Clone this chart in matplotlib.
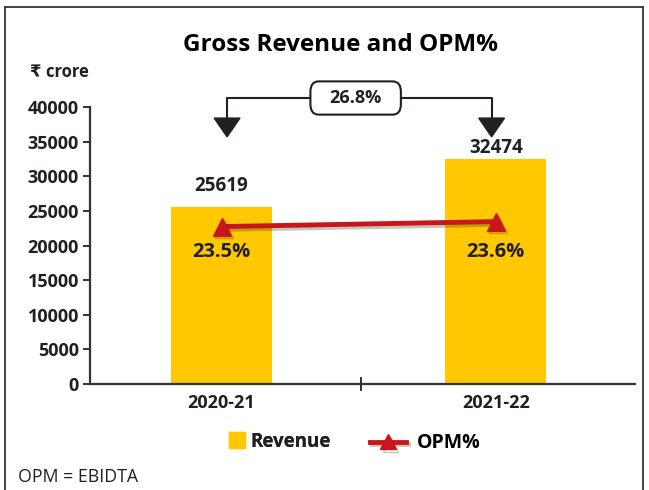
import matplotlib.pyplot as plt
import matplotlib.patheffects as pe
from matplotlib.lines import Line2D
from matplotlib.patches import Polygon, FancyBboxPatch

years = ["2020-21", "2021-22"]
revenue = [25619, 32474]          # Rs crore
opm = [23.5, 23.6]                # OPM %

YELLOW = "#FFC800"
RED = "#C8161D"
DARK = "#231F20"

plt.rcParams["font.family"] = ["Open Sans", "DejaVu Sans"]
plt.rcParams["font.weight"] = "bold"

fig = plt.figure(figsize=(6.49, 4.9), dpi=100)
ax = fig.add_axes([0.1387, 0.2163, 0.8393, 0.5653])

x = list(range(len(years)))
ax.bar(x, revenue, width=0.37, color=YELLOW, zorder=2)
ax.set_xlim(-0.48, 1.507)
ax.set_ylim(0, 40000)
ax.set_yticks(range(0, 40001, 5000))
ax.set_xticks(x)
ax.set_xticklabels(years)
ax.set_xticks([0.51], minor=True)

for s in ["top", "right"]:
    ax.spines[s].set_visible(False)
for s in ["left", "bottom"]:
    ax.spines[s].set_color("#333333")
    ax.spines[s].set_linewidth(1.6)
ax.tick_params(axis="y", direction="out", length=5, width=1.4, color="#333333",
               labelsize=13, labelcolor=DARK, pad=3)
ax.tick_params(axis="x", which="major", length=0, labelsize=13, labelcolor=DARK, pad=7)
ax.tick_params(axis="x", which="minor", direction="inout", length=10, width=1.4, color="#333333")
for lab in ax.get_xticklabels() + ax.get_yticklabels():
    lab.set_fontweight("bold")

# value labels above bars (offsets follow the original layout)
label_dy = [2970, 1610]
for xi, v, dy in zip(x, revenue, label_dy):
    ax.text(xi, v + dy, f"{v}", ha="center", va="center", fontsize=13.5,
            fontweight="bold", color=DARK)

# OPM line on a secondary scale
ax2 = ax.twinx()
ax2.set_ylim(20.34, 25.9)
ax2.axis("off")
shadow = [pe.SimpleLineShadow(offset=(1.5, -2), alpha=0.28, shadow_color="#333300"),
          pe.Normal()]
ax2.plot(x, opm, color=RED, lw=3.5, marker="^", markersize=13, zorder=3,
         path_effects=shadow)
for xi, v in zip(x, opm):
    ax.text(xi, 19000, f"{v}%", ha="center", va="center", fontsize=14.5,
            fontweight="bold", color=DARK, zorder=5)

# growth bracket
growth = (revenue[1] / revenue[0] - 1) * 100
y_top, y_head = 41300, 38400
xl, xr = 0.02, 0.985
ax.plot([xl, xl, xr, xr], [y_head, y_top, y_top, y_head], color=DARK, lw=1.5,
        clip_on=False, zorder=4)
for xa in (xl, xr):
    ax.add_patch(Polygon([(xa - 0.047, y_head), (xa + 0.047, y_head), (xa, 35700)],
                         closed=True, color=DARK, clip_on=False, zorder=4))
bw, bh = 0.33, 4800
ax.add_patch(FancyBboxPatch((0.489 - bw / 2, y_top - bh / 2), bw, bh,
                            boxstyle="round,pad=0,rounding_size=0.03",
                            mutation_aspect=40000 / 0.8,
                            fc="white", ec=DARK, lw=1.5, clip_on=False, zorder=5))
ax.text(0.489, y_top, f"{growth:.1f}%", ha="center", va="center", fontsize=13,
        fontweight="bold", color=DARK, zorder=6)

fig.text(0.524, 0.908, "Gross Revenue and OPM%", ha="center", va="center",
         fontsize=17.5, fontweight="bold", color="black")
fig.text(0.046, 0.853, "₹ crore", ha="left", va="center", fontsize=12,
         fontweight="bold", color=DARK)
fig.text(0.028, 0.027, "OPM = EBIDTA", ha="left", va="center", fontsize=12.8,
         fontweight="normal", color=DARK)

leg1 = fig.legend([Line2D([], [], marker="s", color=YELLOW, linestyle="none",
                          markersize=11)], ["Revenue"],
                  loc="center left", bbox_to_anchor=(0.354, 0.098), frameon=False,
                  handlelength=0.8, handletextpad=0.3, borderpad=0, borderaxespad=0,
                  prop={"weight": "bold", "size": 13.5})
for t in leg1.get_texts():
    t.set_color(DARK)
fig.add_artist(leg1)
fig.legend([Line2D([], [], marker="^", color=RED, lw=3.5, markersize=11,
                   path_effects=shadow)], ["OPM%"],
           loc="center left", bbox_to_anchor=(0.570, 0.095), frameon=False,
           handlelength=1.87, handletextpad=0.55, borderpad=0, borderaxespad=0,
           prop={"weight": "bold", "size": 14})

# outer frame
for xs, ys in [([0.008, 0.008], [0, 0.986]), ([0.008, 0.991], [0.986, 0.986]),
               ([0.991, 0.991], [0, 0.986])]:
    fig.add_artist(Line2D(xs, ys, color="#333333", lw=1.3))

fig.savefig("out.png", dpi=100)
